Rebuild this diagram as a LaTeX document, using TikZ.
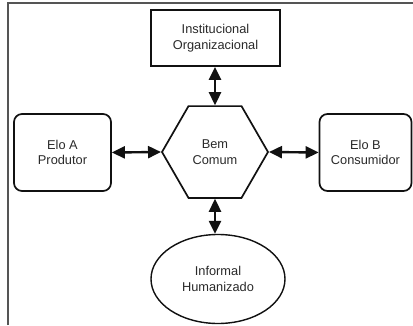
\documentclass[tikz,border=0pt]{standalone}
\usepackage{fontspec}
\setmainfont{Liberation Sans}
\usetikzlibrary{positioning, shapes.geometric, arrows.meta}
\definecolor{bcLine}{HTML}{111111}
\definecolor{bcText}{HTML}{2A2A2A}
\definecolor{bcFrame}{HTML}{555555}

\begin{document}
\begin{tikzpicture}[x=1pt, y=1pt,
    bcBox/.style={draw=bcLine, line width=1.7pt, rectangle, fill=white, align=center, text=bcText, font=\fontsize{12.8}{15.5}\selectfont, inner sep=0pt},
    bcRound/.style={bcBox, rounded corners=8pt},
    bcHex/.style={bcBox, regular polygon, regular polygon sides=6, minimum size=106pt},
    bcOval/.style={bcBox, ellipse, line width=1.4pt},
    bcLink/.style={draw=bcLine, line width=2.4pt, {Triangle[length=13pt, width=12pt]}-{Triangle[length=13pt, width=12pt]}},
]
\useasboundingbox (0,0) rectangle (413,325);
% frame
\draw[bcFrame, line width=1.2pt] (8,0) -- (8,322) -- (413,322);
% nodes
\node[bcHex] (bem) at (215, 173) {Bem\\Comum};
\node[bcBox, minimum width=129pt, minimum height=56pt] (inst) at (215.5, 287) {Institucional\\Organizacional};
\node[bcRound, minimum width=97pt, minimum height=77pt] (eloA) at (62.5, 172.5) {Elo A\\Produtor};
\node[bcRound, minimum width=92pt, minimum height=77pt] (eloB) at (365.5, 172.5) {Elo B\\Consumidor};
\node[bcOval, minimum width=134pt, minimum height=89pt] (informal) at (218, 46) {Informal\\Humanizado};
% links
\draw[bcLink] (inst.south -| bem.north) -- (bem.north);
\draw[bcLink] (eloA.east) -- (bem.west);
\draw[bcLink] (bem.east) -- (eloB.west);
\draw[bcLink] (bem.south) -- (bem.south |- informal.north);
\end{tikzpicture}
\end{document}
